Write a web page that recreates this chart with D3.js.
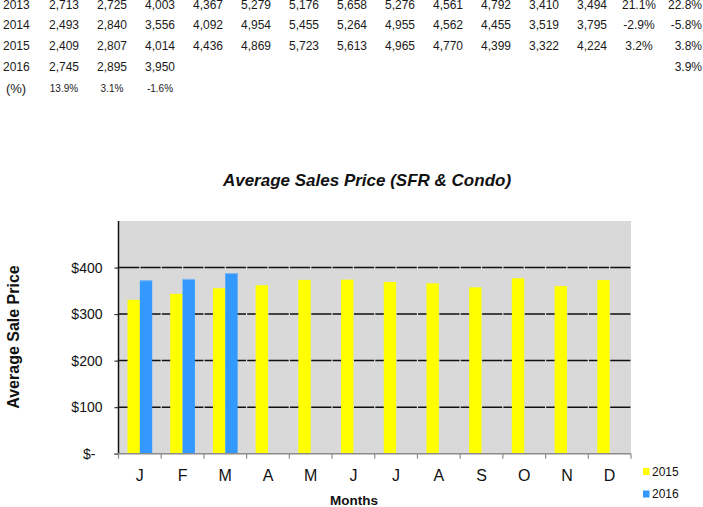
<!DOCTYPE html>
<html>
<head>
<meta charset="utf-8">
<script src="https://cdn.jsdelivr.net/npm/d3@7"></script>
<style>
  html, body { margin: 0; padding: 0; background: #fff; }
  svg { display: block; font-family: Arial, "Liberation Sans", sans-serif; }
</style>
</head>
<body>
<svg id="chart" width="703" height="507"></svg>
<script>
// ---- Table data (top) ----
const tableYears = ["2013", "2014", "2015", "2016"];
const sales2013 = [2713, 2725, 4003, 4367, 5279, 5176, 5658, 5276, 4561, 4792, 3410, 3494];
const sales2014 = [2493, 2840, 3556, 4092, 4954, 5455, 5264, 4955, 4562, 4455, 3519, 3795];
const sales2015 = [2409, 2807, 4014, 4436, 4869, 5723, 5613, 4965, 4770, 4399, 3322, 4224];
const sales2016 = [2745, 2895, 3950];
const pctColA = ["21.1%", "-2.9%", "3.2%", ""];
const pctColB = ["22.8%", "-5.8%", "3.8%", "3.9%"];
const changeLabel = "(%)";
const changeRow = ["13.9%", "3.1%", "-1.6%"];

// ---- Chart data ----
const months = ["J", "F", "M", "A", "M", "J", "J", "A", "S", "O", "N", "D"];
const seriesNames = ["2015", "2016"];
const price2015 = [330.6, 343.5, 355.5, 362, 373.5, 374, 369, 366, 357.5, 377, 360, 373];
const price2016 = [372.5, 375.5, 388];
const yTicks = [0, 100, 200, 300, 400];
const seriesColors = ["#ffff00", "#3399ff"];
const chartTitle = "Average Sales Price (SFR & Condo)";
const yTitle = "Average Sale Price";
const xTitle = "Months";

const svg = d3.select("#chart");
const fmt = d3.format(",");

// ---- Table ----
const tableRows = [sales2013, sales2014, sales2015, sales2016];
const rowY = [8.5, 29, 50, 71];
const colX = d3.scaleLinear().domain([0, 11]).range([64, 592]);
const tbl = svg.append("g").attr("fill", "#1a1a1a").attr("font-size", 12);
tableRows.forEach((row, r) => {
  tbl.append("text").attr("x", 3).attr("y", rowY[r]).text(tableYears[r]);
  row.forEach((v, i) => {
    tbl.append("text").attr("x", colX(i)).attr("y", rowY[r])
      .attr("text-anchor", "middle").text(fmt(v));
  });
  if (pctColA[r]) tbl.append("text").attr("x", 639).attr("y", rowY[r]).attr("text-anchor", "middle").text(pctColA[r]);
  if (pctColB[r]) tbl.append("text").attr("x", 702).attr("y", rowY[r]).attr("text-anchor", "end").text(pctColB[r]);
});
tbl.append("text").attr("x", 16).attr("y", 93).attr("text-anchor", "middle").attr("font-size", 13).text(changeLabel);
changeRow.forEach((t, i) => {
  tbl.append("text").attr("x", colX(i)).attr("y", 92).attr("text-anchor", "middle")
    .attr("font-size", 10).text(t);
});

// ---- Chart ----
const plot = { left: 118.5, right: 631, top: 221, bottom: 453.7 };
const x0 = d3.scaleBand().domain(d3.range(months.length)).range([plot.left, plot.right]).padding(0);
const x1 = d3.scaleBand().domain(seriesNames).range([0, x0.bandwidth()]).paddingInner(0).paddingOuter(0.73);
const y = d3.scaleLinear().domain([0, 500]).range([plot.bottom, plot.top]);

// background
svg.append("rect").attr("x", plot.left).attr("y", plot.top)
  .attr("width", plot.right - plot.left).attr("height", plot.bottom - plot.top)
  .attr("fill", "#d9d9d9");

// gridlines
const half = x0.bandwidth() / 2;
svg.append("g").selectAll("line").data(yTicks.filter(d => d > 0)).join("line")
  .attr("x1", plot.left).attr("x2", plot.right)
  .attr("y1", d => y(d)).attr("y2", d => y(d))
  .attr("stroke", "#111").attr("stroke-width", 1.5)
  .attr("stroke-dasharray", `${half - 1.2},1.2`)
  .attr("stroke-dashoffset", half - 0.6);

// bars
const seriesData = [price2015, price2016];
seriesData.forEach((vals, s) => {
  svg.append("g").selectAll("rect").data(vals).join("rect")
    .attr("x", (d, i) => x0(i) + x1(seriesNames[s]))
    .attr("width", x1.bandwidth())
    .attr("y", d => y(d))
    .attr("height", d => y(0) - y(d))
    .attr("fill", seriesColors[s]);
});
// light top edge on the blue bars
svg.append("g").selectAll("line").data(price2016).join("line")
  .attr("x1", (d, i) => x0(i) + x1("2016"))
  .attr("x2", (d, i) => x0(i) + x1("2016") + x1.bandwidth())
  .attr("y1", d => y(d) + 0.5).attr("y2", d => y(d) + 0.5)
  .attr("stroke", "#7db9f5").attr("stroke-width", 1);

// y axis
const yAxis = d3.axisLeft(y).tickValues(yTicks).tickSize(4).tickPadding(12)
  .tickFormat(d => d === 0 ? "$-" : "$" + d);
const yg = svg.append("g").attr("transform", `translate(${plot.left},0)`).call(yAxis);
yg.select(".domain").remove();
yg.selectAll(".tick line").attr("stroke", "#333").attr("stroke-width", 1.2);
yg.selectAll(".tick text").attr("font-size", 14).attr("fill", "#111")
  .attr("font-family", "Arial, 'Liberation Sans', sans-serif")
  .attr("dx", d => d === 0 ? -7 : 0);
svg.append("line").attr("x1", plot.left).attr("x2", plot.left)
  .attr("y1", plot.top).attr("y2", plot.bottom + 1)
  .attr("stroke", "#111").attr("stroke-width", 1.5);

// x axis
const xg = svg.append("g");
xg.append("line").attr("x1", plot.left - 4).attr("x2", plot.right)
  .attr("y1", plot.bottom).attr("y2", plot.bottom)
  .attr("stroke", "#8c8c8c").attr("stroke-width", 1.5);
xg.selectAll("line.tk").data(d3.range(months.length + 1)).join("line").attr("class", "tk")
  .attr("x1", i => i < months.length ? x0(i) : plot.right)
  .attr("x2", i => i < months.length ? x0(i) : plot.right)
  .attr("y1", plot.bottom).attr("y2", plot.bottom + 5)
  .attr("stroke", "#8c8c8c").attr("stroke-width", 1.2);
xg.selectAll("text").data(months).join("text")
  .attr("x", (d, i) => x0(i) + half).attr("y", 481)
  .attr("text-anchor", "middle").attr("font-size", 16).attr("fill", "#111")
  .text(d => d);

// titles
svg.append("text").attr("x", 367).attr("y", 186).attr("text-anchor", "middle")
  .attr("font-size", 17).attr("font-weight", "bold").attr("font-style", "italic")
  .attr("fill", "#111").text(chartTitle);
svg.append("text").attr("transform", "translate(18.5,337) rotate(-90)")
  .attr("text-anchor", "middle").attr("font-size", 16).attr("font-weight", "bold")
  .attr("fill", "#111").text(yTitle);
svg.append("text").attr("x", 354).attr("y", 505).attr("text-anchor", "middle")
  .attr("font-size", 13.5).attr("font-weight", "bold").attr("fill", "#111").text(xTitle);

// legend
const lg = svg.append("g");
seriesNames.forEach((n, i) => {
  const ly = 471.5 + i * 22.5;
  lg.append("rect").attr("x", 643).attr("y", ly - 3.5).attr("width", 6.5).attr("height", 7)
    .attr("fill", seriesColors[i]);
  lg.append("text").attr("x", 652).attr("y", ly + 4).attr("font-size", 12)
    .attr("fill", "#111").text(n);
});
</script>
</body>
</html>
